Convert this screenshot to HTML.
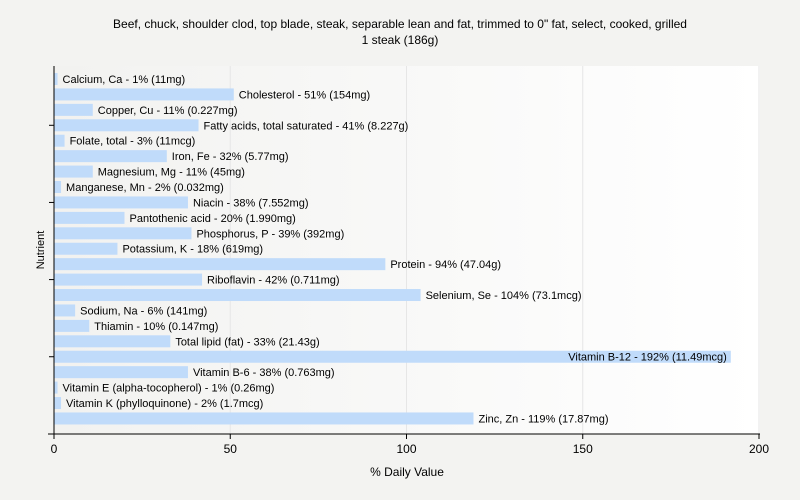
<!DOCTYPE html>
<html><head><meta charset="utf-8"><style>
body{margin:0;width:800px;height:500px;background:#f3f3f1;font-family:"Liberation Sans",sans-serif;overflow:hidden}
svg{display:block}
text{font-family:"Liberation Sans",sans-serif;fill:#000}
</style></head><body>
<svg id="c" width="800" height="500">
<defs><linearGradient id="bg" x1="0" x2="1" y1="0" y2="0"><stop offset="0" stop-color="#f2f2f0"/><stop offset="1" stop-color="#ffffff"/></linearGradient></defs>
<rect x="0" y="0" width="800" height="500" fill="#f3f3f1"/>
<text x="400" y="28" text-anchor="middle" font-size="12">Beef, chuck, shoulder clod, top blade, steak, separable lean and fat, trimmed to 0" fat, select, cooked, grilled</text>
<text x="400" y="44" text-anchor="middle" font-size="12">1 steak (186g)</text>
<rect x="54" y="66" width="706" height="368" fill="url(#bg)"/>
<g id="grid"></g><g id="bars"></g><g id="axes"></g>
<text x="407" y="476" text-anchor="middle" font-size="12">% Daily Value</text>
<text transform="translate(44,250) rotate(-90)" text-anchor="middle" font-size="11">Nutrient</text>
</svg>
<script>
const categories=["Calcium, Ca","Cholesterol","Copper, Cu","Fatty acids, total saturated","Folate, total","Iron, Fe","Magnesium, Mg","Manganese, Mn","Niacin","Pantothenic acid","Phosphorus, P","Potassium, K","Protein","Riboflavin","Selenium, Se","Sodium, Na","Thiamin","Total lipid (fat)","Vitamin B-12","Vitamin B-6","Vitamin E (alpha-tocopherol)","Vitamin K (phylloquinone)","Zinc, Zn"];
const values=[1,51,11,41,3,32,11,2,38,20,39,18,94,42,104,6,10,33,192,38,1,2,119];
const amounts=["11mg","154mg","0.227mg","8.227g","11mcg","5.77mg","45mg","0.032mg","7.552mg","1.990mg","392mg","619mg","47.04g","0.711mg","73.1mcg","141mg","0.147mg","21.43g","11.49mcg","0.763mg","0.26mg","1.7mcg","17.87mg"];
const xTicks=[0,50,100,150,200];
const NS="http://www.w3.org/2000/svg";
const x0=54,x1=759,yTop=79,rowH=15.43,axisY=434;
const xs=v=>x0+(v/200)*(x1-x0);
const ys=i=>yTop+i*rowH;
function mk(t,a,p){const e=document.createElementNS(NS,t);for(const k in a)e.setAttribute(k,a[k]);p.appendChild(e);return e;}
const grid=document.getElementById('grid'),bars=document.getElementById('bars'),axes=document.getElementById('axes');
xTicks.forEach(t=>{
 if(t>0){const g=mk('line',{x1:xs(t),x2:xs(t),y1:66,y2:axisY,stroke:'#e6e6e6'},grid);
 
 }
 const tk=mk('line',{x1:xs(t),x2:xs(t),y1:axisY,y2:axisY+5,stroke:'#000'},axes);
 
 
 const tl=mk('text',{x:xs(t),y:axisY+19,'text-anchor':'middle','font-size':'12'},axes);
 tl.textContent=t;
 
 
});
categories.forEach((c,i)=>{
 const y=ys(i);
 const r=mk('rect',{x:x0,y:y-6,width:Math.max(0,xs(values[i])-x0),height:12,fill:'#c0dbfa'},bars);
 
 
 const l=mk('text',{x:xs(values[i])+5,y:y+4,'font-size':'11'},bars);
 l.textContent=c+' - '+values[i]+'% ('+amounts[i]+')';
 
 
 const w=l.getComputedTextLength();
 if(xs(values[i])+5+w>x1){l.setAttribute('x',xs(values[i])-4);l.setAttribute('text-anchor','end');}
 if(i%5===3){const t=mk('line',{x1:x0-5,x2:x0,y1:y,y2:y,stroke:'#000'},axes);
 
 }
});
const ya=mk('line',{x1:x0,x2:x0,y1:66,y2:axisY+0.5,stroke:'#000'},axes);


const xa=mk('line',{x1:x0-6,x2:x1+1,y1:axisY,y2:axisY,stroke:'#000'},axes);


</script>
</body></html>
